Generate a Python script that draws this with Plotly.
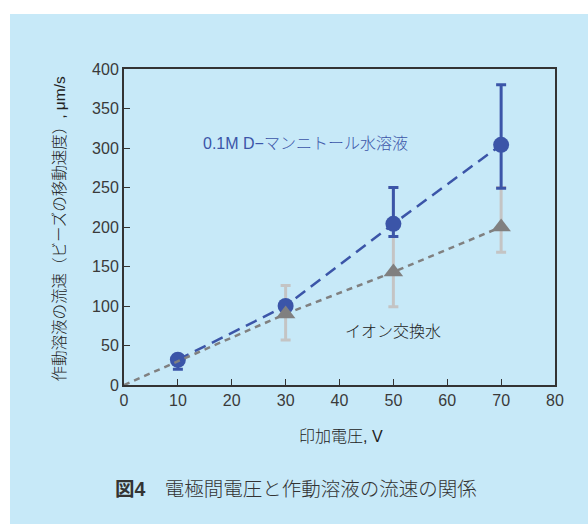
import plotly.graph_objects as go

# Applied voltage (V) and measured flow velocity (µm/s)
voltage_mannitol = [10, 30, 50, 70]
velocity_mannitol = [32, 100, 204, 304]
err_plus_mannitol = [5, 5, 46, 76]
err_minus_mannitol = [12, 5, 16, 55]

voltage_ion = [0, 30, 50, 70]
velocity_ion = [0, 90, 143, 200]
err_plus_ion = [0, 36, 107, 50]
err_minus_ion = [0, 33, 44, 32]

x_ticks = [0, 10, 20, 30, 40, 50, 60, 70, 80]
y_ticks = [0, 50, 100, 150, 200, 250, 300, 350, 400]

BLUE = "#3b55a8"
GRAY = "#808080"
LIGHT_GRAY = "#c4c4c4"
FONT = "Liberation Sans, Noto Sans CJK JP, sans-serif"
JP_FONT = "Noto Sans CJK JP, sans-serif"

fig = go.Figure()

# error bars of the ion-exchanged water series (behind everything)
fig.add_trace(go.Scatter(
    x=voltage_ion[1:], y=velocity_ion[1:], mode="markers",
    marker=dict(size=1, color="rgba(0,0,0,0)"),
    error_y=dict(type="data", symmetric=False,
                 array=err_plus_ion[1:], arrayminus=err_minus_ion[1:],
                 color=LIGHT_GRAY, thickness=3, width=5),
    showlegend=False, hoverinfo="skip"))

# D-mannitol solution: dashed line, error bars and circles
fig.add_trace(go.Scatter(
    x=voltage_mannitol, y=velocity_mannitol, mode="lines+markers",
    line=dict(color=BLUE, width=2.5, dash="12px,7px"),
    marker=dict(symbol="circle", size=16, color=BLUE),
    error_y=dict(type="data", symmetric=False,
                 array=err_plus_mannitol, arrayminus=err_minus_mannitol,
                 color=BLUE, thickness=3, width=5),
    showlegend=False))

# ion-exchanged water: dashed line from the origin
fig.add_trace(go.Scatter(
    x=voltage_ion, y=velocity_ion, mode="lines",
    line=dict(color=GRAY, width=2.5, dash="6px,5px"),
    showlegend=False, hoverinfo="skip"))

# ion-exchanged water: triangles
fig.add_trace(go.Scatter(
    x=voltage_ion[1:], y=velocity_ion[1:], mode="markers",
    marker=dict(symbol="triangle-up", size=17, color=GRAY),
    showlegend=False))

axis_common = dict(
    showgrid=False, zeroline=False, showline=True, linecolor="#333333",
    linewidth=2, mirror=True, ticks="inside", ticklen=6, tickwidth=1,
    tickcolor="#333333", tickfont=dict(family=FONT, size=16, color="#3a3a3a"),
)

fig.update_xaxes(range=[0, 80], tickvals=x_ticks, **axis_common)
fig.update_yaxes(range=[0, 400], tickvals=y_ticks, **axis_common)

W, H = 588, 524
L, R, T, B = 124, 33, 69, 139
pw, ph = W - L - R, H - T - B


def px(xp):
    return (xp - L) / pw


def py(yp):
    return (H - B - yp) / ph


fig.update_layout(
    width=W, height=H,
    margin=dict(l=L, r=R, t=T, b=B, pad=0),
    paper_bgcolor="white", plot_bgcolor="white",
    shapes=[dict(type="rect", xref="paper", yref="paper",
                 x0=px(10), x1=px(600), y0=py(530), y1=py(14),
                 fillcolor="#c7e9f8", line=dict(width=0), layer="below")],
    annotations=[
        dict(text="0.1M D−マンニトール水溶液", xref="paper", yref="paper",
             x=px(305), y=py(133), showarrow=False,
             font=dict(family=FONT, size=16, color=BLUE, weight=300)),
        dict(text="イオン交換水", xref="paper", yref="paper",
             x=px(443), y=py(344), showarrow=False,
             font=dict(family=JP_FONT, size=16, color="#222222", weight=300)),
        dict(text="作動溶液の流速（ビーズの移動速度）, μm/s", xref="paper", yref="paper",
             x=px(48), y=py(229), showarrow=False, textangle=-90,
             font=dict(family=FONT, size=15.5, color="#222222", weight=300)),
        dict(text="印加電圧, V", xref="paper", yref="paper",
             x=px(341), y=py(447), showarrow=False,
             font=dict(family=FONT, size=16, color="#222222", weight=300)),
        dict(text="<b>図4</b>　電極間電圧と作動溶液の流速の関係", xref="paper", yref="paper",
             x=px(113), y=py(502), xanchor="left", showarrow=False,
             font=dict(family=FONT, size=19.5, color="#333333", weight=300)),
    ],
)

fig.write_html("out.html")
